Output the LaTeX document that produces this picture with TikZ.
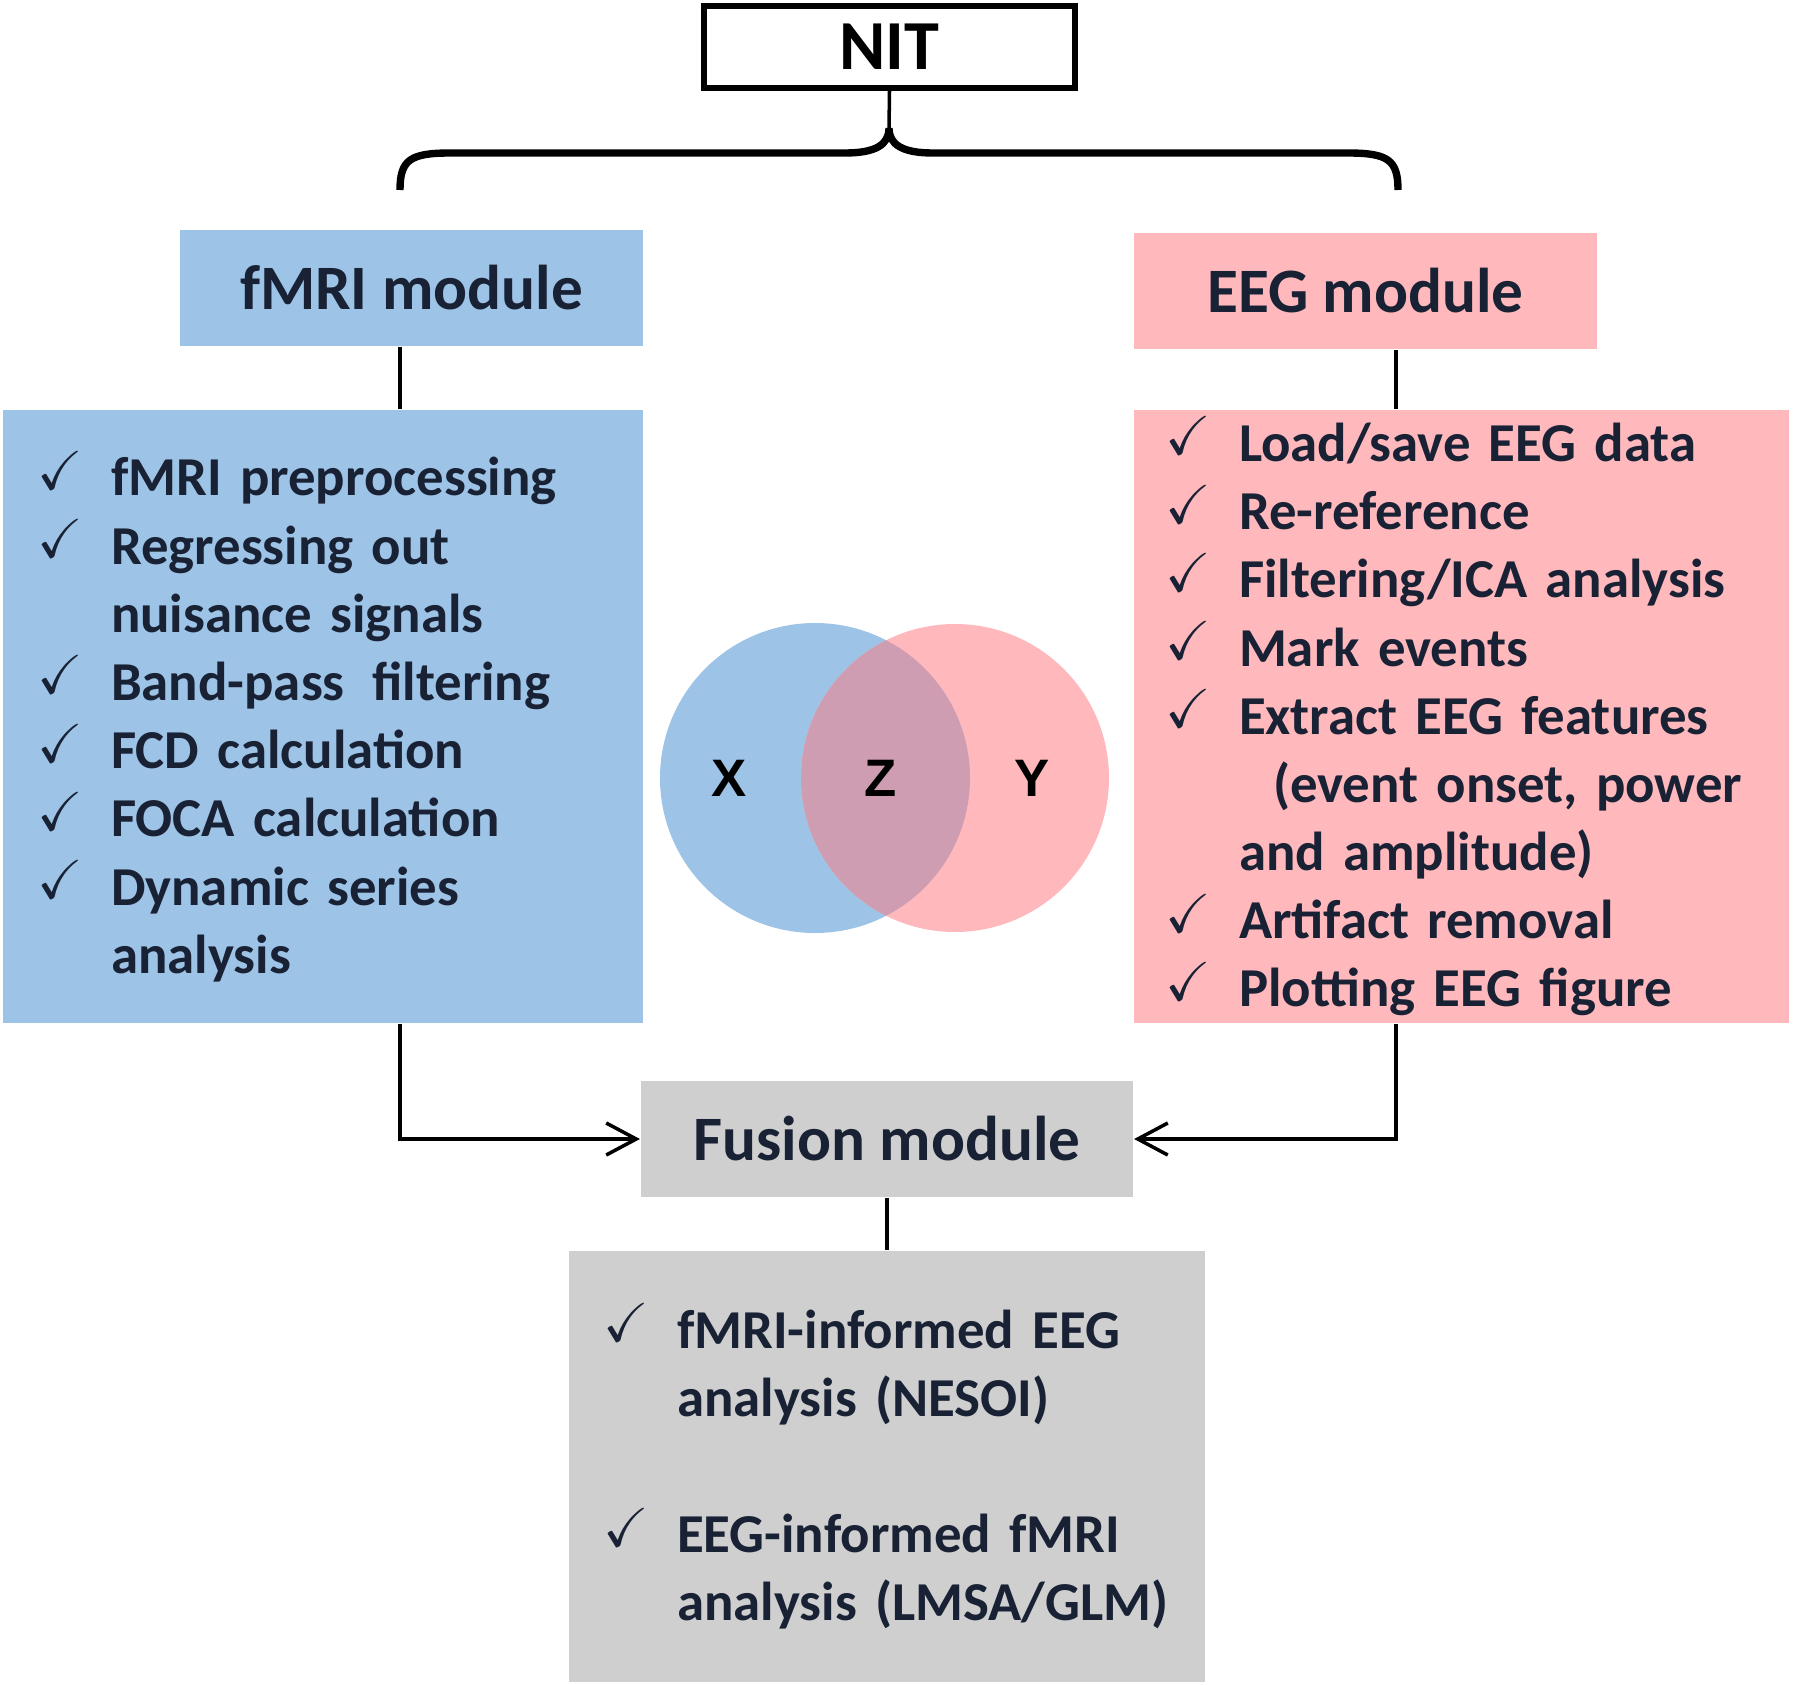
\documentclass[tikz,border=0pt]{standalone}
\usepackage{fontspec}
\usepackage{amssymb}
\setmainfont{Carlito}
\newfontfamily\vennfont{Liberation Sans}
\usetikzlibrary{arrows.meta,positioning}
\definecolor{fmriblue}{RGB}{157,195,230}
\definecolor{eegpink}{RGB}{255,185,189}
\definecolor{fusgray}{RGB}{207,207,207}
\definecolor{overlap}{RGB}{207,157,178}
\definecolor{ink}{RGB}{25,33,52}
\newcommand{\chkmark}{\makebox[7.4mm][l]{\raisebox{0.25ex}{$\checkmark$}}}
\newcommand{\chkgap}{\hspace*{7.4mm}}

\begin{document}
\begin{tikzpicture}[x=0.1mm,y=0.1mm,semithick]
	  \tikzstyle{module}=[rectangle,inner sep=0pt,minimum width=46.3mm,minimum height=11.6mm,text=ink,font=\fontsize{18}{20}\selectfont\bfseries]
	  \tikzstyle{listbox}=[rectangle,align=left,inner ysep=0pt,text=ink,font=\fontsize{15.6}{19.4}\selectfont\bfseries]
	  \tikzstyle{conn}=[line width=1pt,black]
	  \tikzstyle{arr}=[conn,-{Straight Barb[length=3mm,width=3.2mm]}]
	  \tikzstyle{brace}=[line width=2.1pt,black]
	  \tikzstyle{venn}=[text=black,font=\vennfont\fontsize{15}{15}\selectfont\bfseries]

	  \useasboundingbox (0,0) rectangle (1794,-1684);

	  \node[draw,line width=1.6pt,minimum width=37.1mm,minimum height=8.2mm,font=\fontsize{20}{22}\selectfont\bfseries] (nit) at (889.5,-47) {NIT};

	  \node[module,fill=fmriblue] (fmri) at (411.5,-288) {fMRI module};
	  \node[module,fill=eegpink] (eeg) at (1365.5,-291) {EEG module};
	  \node[module,fill=fusgray,minimum width=49.2mm] (fusion) at (887,-1139) {Fusion module};

	  \node[listbox,fill=fmriblue,inner xsep=3.4mm,text width=57.2mm,minimum height=61.3mm,
	        below=6.2mm of fmri.south east,anchor=north east] (fmrilist) {%
	    \chkmark fMRI preprocessing\\
	    \chkmark Regressing out\\
	    \chkgap nuisance signals\\
	    \chkmark Band-pass\ \,filtering\\
	    \chkmark FCD calculation\\
	    \chkmark FOCA calculation\\
	    \chkmark Dynamic series\\
	    \chkgap analysis};

	  \node[listbox,fill=eegpink,inner xsep=3.1mm,text width=59.3mm,minimum height=61.3mm,
	        below=5.9mm of eeg.south west,anchor=north west] (eeglist) {%
	    \chkmark Load/save EEG data\\
	    \chkmark Re-reference\\
	    \chkmark Filtering/ICA analysis\\
	    \chkmark Mark events\\
	    \chkmark Extract EEG features\\
	    \chkgap\hspace*{3.4mm}(event onset, power\\
	    \chkgap and amplitude)\\
	    \chkmark Artifact removal\\
	    \chkmark Plotting EEG figure};

	  \node[listbox,fill=fusgray,inner xsep=3.4mm,text width=56.8mm,minimum height=43.1mm,
	        below=5.2mm of fusion] (fusionlist) {%
	    \chkmark fMRI-informed EEG\\
	    \chkgap analysis (NESOI)\\[19.4pt]
	    \chkmark EEG-informed fMRI\\
	    \chkgap analysis (LMSA/GLM)};

	  % brace under NIT
	  \coordinate (cusp) at (889,-128);
	  \coordinate (lx) at (400,0);
	  \coordinate (rx) at (1396,0);
	  \draw[conn] (nit.south) -- (cusp);
	  \draw[brace] (400,-190) .. controls (400,-160) and (410,-153) .. (450,-153) -- (845,-153)
	    .. controls (875,-153) and (889,-145) .. (cusp)
	    .. controls (889,-145) and (903,-153) .. (933,-153) -- (1348,-153)
	    .. controls (1388,-153) and (1398,-160) .. (1398,-190);

	  \draw[conn] (fmri.south -| lx) -- (fmrilist.north -| lx);
	  \draw[conn] (eeg.south -| rx) -- (eeglist.north -| rx);
	  \draw[conn] (fusion) -- (fusionlist);
	  \draw[arr] (fmrilist.south -| lx) |- (fusion.west);
	  \draw[arr] (eeglist.south -| rx) |- (fusion.east);

	  % venn
	  \fill[fmriblue] (815,-778) circle[radius=15.5mm];
	  \fill[eegpink] (955,-778) circle[radius=15.4mm];
	  \begin{scope}
	    \clip (815,-778) circle[radius=15.5mm];
	    \fill[overlap] (955,-778) circle[radius=15.4mm];
	  \end{scope}
	  \node[venn] (x) at (729,-778) {X};
	  \node[venn] (z) at (881,-778) {Z};
	  \node[venn] (y) at (1032,-778) {Y};
	\end{tikzpicture}
\end{document}
